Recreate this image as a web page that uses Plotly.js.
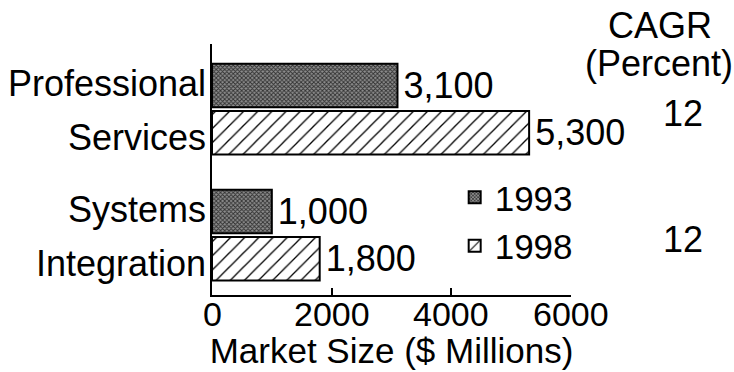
<!DOCTYPE html>
<html>
<head>
<meta charset="utf-8">
<script src="https://cdn.plot.ly/plotly-3.0.1.min.js"></script>
<style>
  html, body { margin: 0; padding: 0; background: #fff; }
  #chart { width: 734px; height: 372px; }
</style>
</head>
<body>
<div id="chart"></div>
<script>
// Market size by segment, 1993 vs 1998 ($ millions)
const categories = ["Professional Services", "Systems Integration"];
const categoryLines = [["Professional", "Services"], ["Systems", "Integration"]];
const years = ["1993", "1998"];
const values1993 = [3100, 1000];
const values1998 = [5300, 1800];
const cagrPercent = [12, 12];
const xTicks = [0, 2000, 4000, 6000];

const FONT = "Liberation Sans, Arial, Helvetica, sans-serif";
const BIG = 36;     // category labels, value labels, CAGR column
const MID = 35;     // legend, axis title
const TICK = 34;    // tick labels

function font(size) { return { family: FONT, size: size, color: "#000" }; }

const traces = [
  {
    type: "bar", orientation: "h", name: years[0],
    y: categories, x: values1993,
    texttemplate: "\u200A%{x:,}", textposition: "outside", constraintext: "none",
    cliponaxis: false, textfont: font(BIG),
    marker: {
      color: "#8e8e8e",
      line: { color: "#000", width: 2 },
      pattern: { shape: "x", fgcolor: "#303030", bgcolor: "#8e8e8e", size: 3, solidity: 0.5 }
    },
    hoverinfo: "skip"
  },
  {
    type: "bar", orientation: "h", name: years[1],
    y: categories, x: values1998,
    texttemplate: "\u200A%{x:,}", textposition: "outside", constraintext: "none",
    cliponaxis: false, textfont: font(BIG),
    marker: {
      color: "#ffffff",
      line: { color: "#000", width: 2 },
      pattern: { shape: "/", fgcolor: "#000", bgcolor: "#fff", size: 10, solidity: 0.13 }
    },
    hoverinfo: "skip"
  }
];

// vertical offsets (px) of the two label lines from the category centre
const LINE_SHIFT = [26, -28];

const annotations = [];
categories.forEach((cat, i) => {
  categoryLines[i].forEach((line, k) => {
    annotations.push({
      xref: "paper", yref: "y", x: 0, y: cat, xanchor: "right", yanchor: "middle",
      xshift: -4, yshift: LINE_SHIFT[k], showarrow: false, text: line, font: font(BIG)
    });
  });
  // growth rate column
  annotations.push({
    xref: "paper", yref: "y", x: 1.312, y: cat, xanchor: "center", yanchor: "middle",
    yshift: -4, showarrow: false, text: String(cagrPercent[i]), font: font(BIG)
  });
});
annotations.push({
  xref: "paper", yref: "paper", x: 1.248, y: 1.072, xanchor: "center", yanchor: "middle",
  showarrow: false, text: "CAGR", font: font(BIG)
});
annotations.push({
  xref: "paper", yref: "paper", x: 1.244, y: 0.922, xanchor: "center", yanchor: "middle",
  showarrow: false, text: "(Percent)", font: font(BIG)
});
// x tick labels, set tight under the axis line
xTicks.forEach(v => {
  annotations.push({
    xref: "x", yref: "paper", x: v, y: 0, xanchor: "center", yanchor: "top",
    yshift: 2, showarrow: false, text: String(v), font: font(TICK)
  });
});

const layout = {
  width: 734, height: 372,
  margin: { l: 212, r: 163, t: 44, b: 77 },
  paper_bgcolor: "#fff", plot_bgcolor: "#fff",
  font: font(MID),
  barmode: "group", bargap: 0.25, bargroupgap: 0.08,
  showlegend: true,
  legend: {
    x: 0.676, y: 0.506, xanchor: "left", yanchor: "top",
    bgcolor: "rgba(0,0,0,0)", font: font(MID), traceorder: "normal"
  },
  xaxis: {
    range: [0, 6000], tickvals: xTicks, showticklabels: false,
    showgrid: false, zeroline: false,
    showline: true, linecolor: "#000", linewidth: 2,
    ticks: "inside", ticklen: 7, tickwidth: 2, tickcolor: "#000",
    title: { text: "Market Size ($ Millions)", standoff: 42, font: font(MID) },
    automargin: false, fixedrange: true
  },
  yaxis: {
    type: "category", categoryarray: categories, categoryorder: "array",
    range: [1.476, -0.516],
    showgrid: false, zeroline: false, showticklabels: false, ticks: "",
    showline: true, linecolor: "#000", linewidth: 2,
    automargin: false, fixedrange: true
  },
  annotations: annotations
};

Plotly.newPlot("chart", traces, layout, { staticPlot: true, displayModeBar: false });
</script>
</body>
</html>
